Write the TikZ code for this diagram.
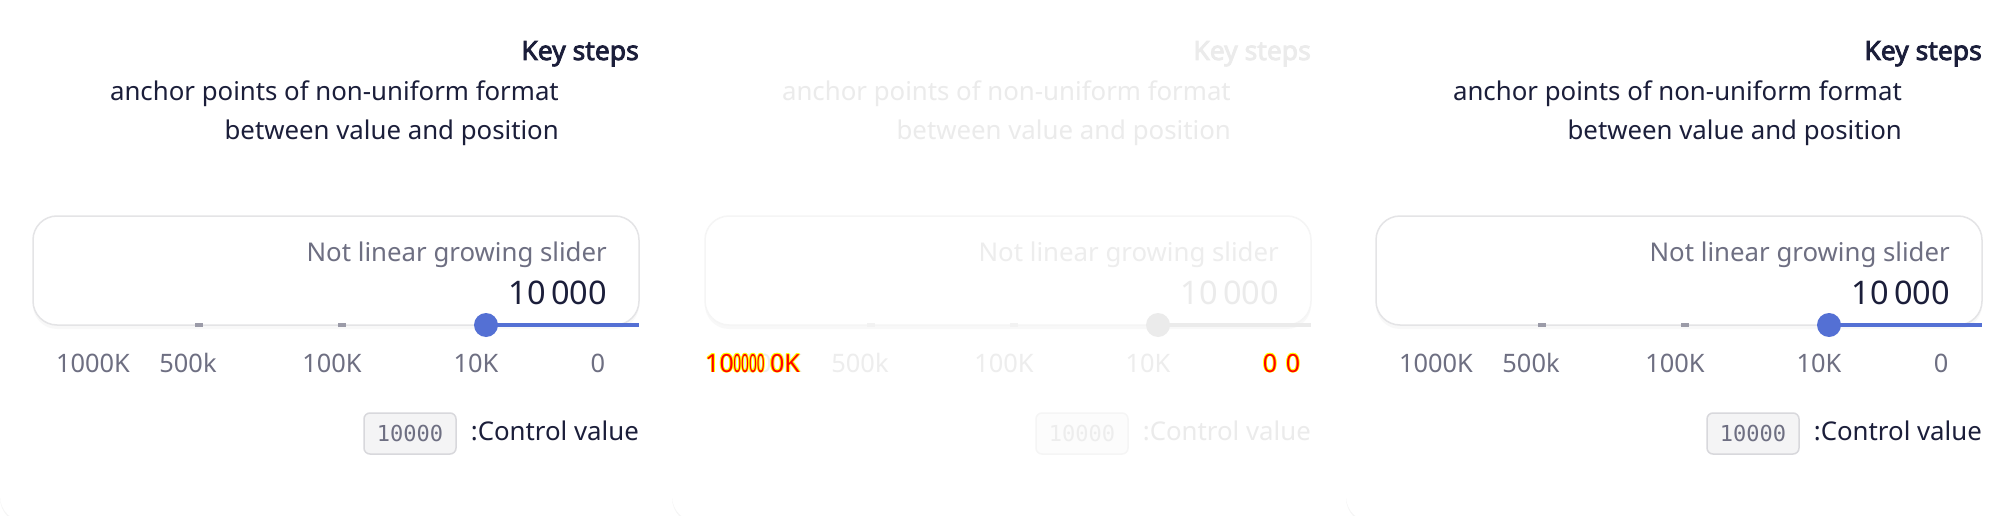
\documentclass[tikz,border=0pt]{standalone}
\usepackage{fontspec}
\setmainfont{Noto Sans}[AutoFakeBold=3]
\setmonofont{DejaVu Sans Mono}
\usetikzlibrary{shadows}

\definecolor{ink}{HTML}{1B1E3A}
\definecolor{muted}{HTML}{6E6F82}
\definecolor{knobblue}{HTML}{5470D4}
\definecolor{tickgray}{HTML}{9B9BA8}
\definecolor{codefill}{HTML}{F4F4F5}
\definecolor{codeline}{HTML}{D8D8DC}
\definecolor{cardline}{HTML}{E4E4E6}
\definecolor{glitchred}{HTML}{FF0000}
\definecolor{glitchyellow}{HTML}{FFFF00}

\tikzset{
  card/.style={fill=white, rounded corners=26pt, drop shadow={shadow xshift=0pt, shadow yshift=-2pt, opacity=0.08}},
  slidercard/.style={fill=white, draw=cardline, line width=1.5pt, rounded corners=24pt, drop shadow={shadow xshift=0pt, shadow yshift=-4pt, opacity=0.05}},
  title/.style={anchor=base east, inner sep=0pt, font=\fontsize{26.5}{30}\selectfont\bfseries, text=ink},
  body/.style={anchor=base east, inner sep=0pt, font=\fontsize{25.8}{30}\selectfont, text=ink},
  hint/.style={body, text=muted},
  value/.style={anchor=base east, inner sep=0pt, font=\fontsize{32.5}{36}\selectfont, text=ink},
  scalelbl/.style={anchor=base, inner sep=0pt, font=\fontsize{25.4}{30}\selectfont, text=muted},
  knob/.style={circle, fill=knobblue, minimum size=24pt, inner sep=0pt},
  tickmark/.style={fill=tickgray, minimum width=8pt, minimum height=4pt, inner sep=0pt},
  track/.style={draw=knobblue, line width=4pt},
  codebox/.style={fill=codefill, draw=codeline, line width=1.5pt, rounded corners=6pt, minimum width=92pt, minimum height=41pt, inner sep=0pt, font=\fontsize{22}{26}\selectfont\ttfamily, text=muted},
  glitch/.style={inner sep=0pt, font=\fontsize{25}{30}\selectfont},
}

\begin{document}
\begin{tikzpicture}[x=1pt, y=-1pt]
\useasboundingbox (0,0) rectangle (2016,516);
% background cards
\path[card] (0,-40) rectangle (700,522);
\path[card] (672,-40) rectangle (1372,522);
\path[card] (1346,-40) rectangle (2060,522);

% the three panels, the middle one faded
\foreach \p/\dx/\fade in {a/0/0, b/672/1, c/1343/0} {
  \begin{scope}[xshift=\dx pt]
    \ifnum\fade=1
      \colorlet{ink}{black!8}\colorlet{muted}{black!7}\colorlet{knobblue}{black!8}
      \colorlet{tickgray}{black!5}\colorlet{codefill}{black!1}\colorlet{codeline}{black!4}
      \colorlet{cardline}{black!4}
    \fi
    \node[title] (\p-key) at (639,60) {Key steps};
    \node[body] (\p-desc1) at (559,101) {anchor points of non-uniform format};
    \node[body] (\p-desc2) at (559,140) {between value and position};
    \path[slidercard] (33,216) rectangle (639,325);
    \node[hint] (\p-name) at (607,261) {Not linear growing slider};
    \node[value] (\p-val) at (607,304) {10\,000};
    \node[tickmark] (\p-t1) at (199,325) {};
    \node[tickmark] (\p-t2) at (342,325) {};
    \coordinate (\p-k) at (486,325);
    \coordinate (\p-end) at (639,325);
    \draw[track] (\p-k) -- (\p-end);
    \node[knob] (\p-knob) at (\p-k) {};
    \node[scalelbl] (\p-l1) at (93,372) {1000K};
    \node[scalelbl] (\p-l2) at (188,372) {500k};
    \node[scalelbl] (\p-l3) at (332,372) {100K};
    \node[scalelbl] (\p-l4) at (476,372) {10K};
    \node[scalelbl] (\p-l5) at (598,372) {0};
    \node[codebox] (\p-code) at (410,433.5) {10000};
    \node[body] (\p-ctl) at (639,440) {:Control value};
  \end{scope}
}

% overlapping labels on the faded panel
\foreach \ox/\oy [count=\i] in {-0.8/0, 0.8/0, 0/-0.8, 0/0.8, -0.6/-0.6, 0.6/0.6, -0.6/0.6, 0.6/-0.6, 0/0} {
  \ifnum\i=9 \def\gc{glitchred}\else \def\gc{glitchyellow}\fi
  \foreach \gx/\gt/\ga/\gs [count=\j] in {705/10/base west/1, 800/0K/base east/1, 749/0000/base/0.55, 1270/0/base/1, 1293/0/base/1}
    \node[glitch, text=\gc, anchor=\ga, xscale=\gs] (g\i-\j) at (\gx+\ox,372+\oy) {\gt};
}
\end{tikzpicture}
\end{document}
